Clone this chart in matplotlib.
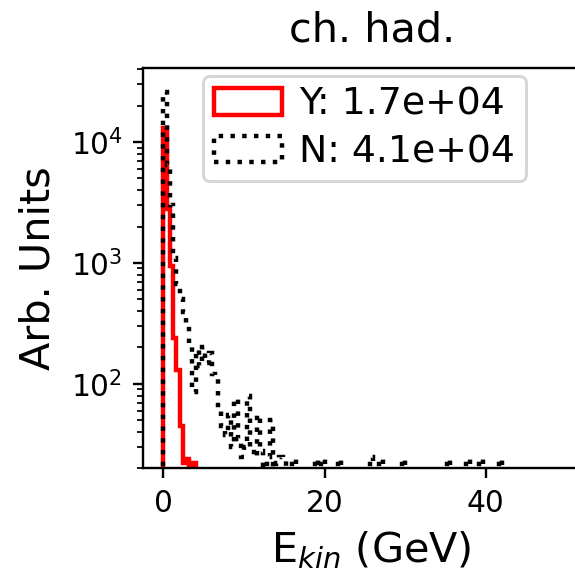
import numpy as np
import matplotlib
matplotlib.use("Agg")
import matplotlib.pyplot as plt

# kinetic energy binning (GeV)
binEdges = np.linspace(0, 50, 126)

# "Y" sample: bin centres (GeV) and summed weights
yEnergy = [0.2, 0.6, 1.0, 1.4, 1.8, 2.2, 2.6, 3.0, 3.8]
yWeight = [13000, 2800, 950, 240, 130, 45, 22, 24, 22]

# "N" sample: bin centres (GeV) and summed weights
nEnergy = [0.2, 0.6, 1.0, 1.4, 1.8, 2.2, 2.6, 3.0, 3.4, 3.8,
           4.2, 4.6, 5.0, 5.4, 5.8, 6.2, 6.6, 7.0, 7.4, 7.8,
           8.2, 8.6, 9.0, 9.4, 9.8, 10.2, 10.6, 11.0, 11.4, 11.8,
           12.2, 13.0, 13.4, 14.2, 14.6, 15.0, 16.2,
           19.0, 19.8, 21.8, 25.8, 27.0, 29.8, 35.4, 37.8, 39.4, 41.8]
nWeight = [26000, 6500, 3000, 1100, 670, 500, 390, 300, 210, 85,
           190, 140, 200, 150, 180, 120, 110, 60, 45, 38,
           55, 30, 75, 35, 25, 30, 80, 30, 25, 55,
           28, 25, 50, 22, 25, 24, 24,
           24, 24, 24, 25, 24, 24, 24, 24, 24, 24]

fig = plt.figure(figsize=(575 / 213, 571 / 213), dpi=213)
# axes run past the right edge of the canvas
ax = fig.add_axes([0.2492, 0.1799, 0.7943, 0.701])

ax.hist(yEnergy, bins=binEdges, weights=yWeight, histtype='step',
        color='red', linewidth=1.5, label=f'Y: {sum(yWeight):.1e}')
ax.hist(nEnergy, bins=binEdges, weights=nWeight, histtype='step',
        color='black', linestyle=':', linewidth=1.5, label=f'N: {sum(nWeight):.1e}')

ax.set_yscale('log')
ax.set_ylim(20, 4.1e4)
ax.set_xlim(-2.5, 54.17)
ax.set_xticks([0, 20, 40])

ax.set_title('ch. had.', fontsize=14, pad=9)
ax.set_xlabel('E$_{kin}$ (GeV)', fontsize=14)
ax.set_ylabel('Arb. Units', fontsize=14)
ax.legend(loc='upper left', bbox_to_anchor=(0.114, 1.0), fontsize=12.75,
          borderaxespad=0.2, borderpad=0.3, handletextpad=0.45,
          labelspacing=0.3, handlelength=1.8)

fig.savefig('out.png', dpi=213)
